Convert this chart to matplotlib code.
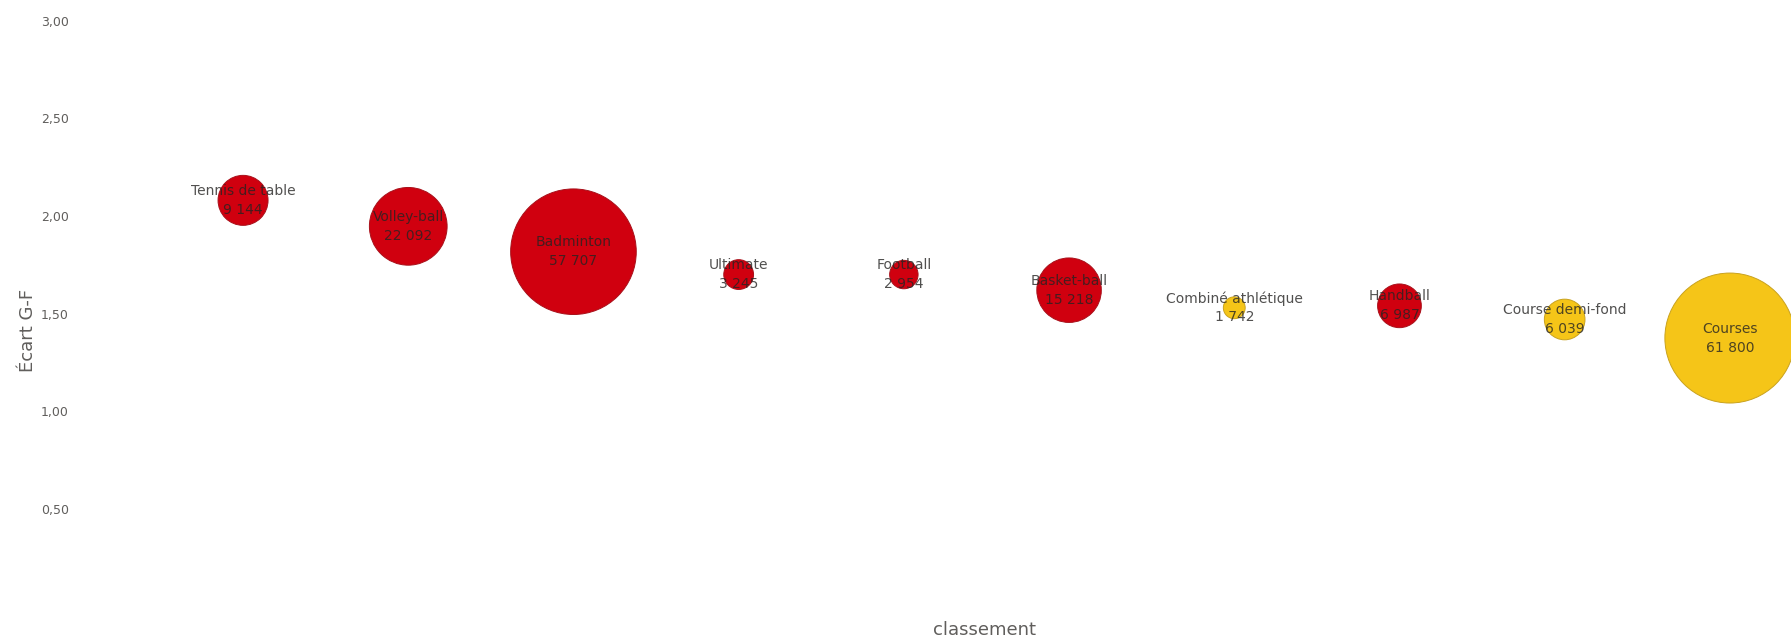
import matplotlib
matplotlib.use('Agg')
import matplotlib.pyplot as plt
import numpy as np

# data
sports = ['Tennis de table', 'Volley-ball', 'Badminton', 'Ultimate', 'Football',
          'Basket-ball', 'Combiné athlétique', 'Handball', 'Course demi-fond', 'Courses']
rank = [1, 2, 3, 4, 5, 6, 7, 8, 9, 10]
ecart = [2.08, 1.947, 1.817, 1.70, 1.70, 1.62, 1.53, 1.54, 1.47, 1.375]
effectif = [9144, 22092, 57707, 3245, 2954, 15218, 1742, 6987, 6039, 61800]
groupe = ['sport co', 'sport co', 'sport co', 'sport co', 'sport co',
          'sport co', 'athlé', 'sport co', 'athlé', 'athlé']
yticks = [0.5, 1.0, 1.5, 2.0, 2.5, 3.0]

colours = {'sport co': '#D0000F', 'athlé': '#F5C518'}
edges = {'sport co': '#A8101A', 'athlé': '#C9A21E'}

def fmt_thousands(n):
    return f'{n:,}'.replace(',', ' ')

fig = plt.figure(figsize=(17.91, 6.44), dpi=100)
ax = fig.add_axes([80 / 1791, 0.0581, 1 - 80 / 1791, 0.9098])

# bubble area proportional to the count
sizes = np.array(effectif) * 0.1417
ax.scatter(rank, ecart, s=sizes,
           c=[colours[g] for g in groupe],
           edgecolors=[edges[g] for g in groupe],
           linewidths=0.7, zorder=2)

for x, y, name, n in zip(rank, ecart, sports, effectif):
    ax.text(x, y, name + '\n' + fmt_thousands(n), ha='center', va='center',
            fontsize=10, color='#252423', alpha=0.8, linespacing=1.45, zorder=3)

ax.set_xlim(0.013, 10.37)
ax.set_ylim(0, 3)
ax.set_yticks(yticks)
ax.set_yticklabels([f'{t:.2f}'.replace('.', ',') for t in yticks])
ax.set_xticks([])
ax.tick_params(axis='y', length=0, pad=8, labelsize=9, labelcolor='#605E5C')
for side in ax.spines.values():
    side.set_visible(False)

fig.text(28 / 1791, 1 - 330 / 644, 'Écart G-F', rotation=90, ha='center', va='center',
         fontsize=13, color='#605E5C')
fig.text(985 / 1791, 1 - 630 / 644, 'classement', ha='center', va='center',
         fontsize=13, color='#605E5C')

plt.savefig('out.png', dpi=100)
